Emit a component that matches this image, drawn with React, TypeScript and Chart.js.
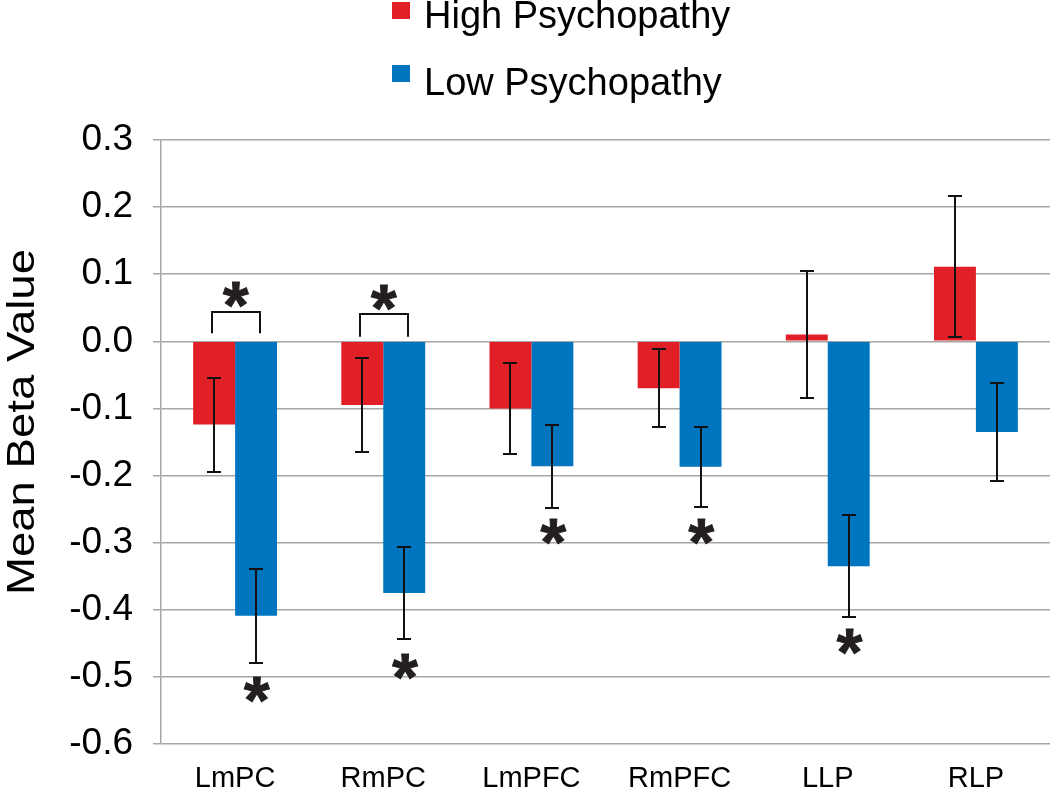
import React, { useEffect, useRef } from "react";
import { Chart, registerables } from "chart.js";

Chart.register(...registerables);

// ---------- data ----------
const categories = ["LmPC", "RmPC", "LmPFC", "RmPFC", "LLP", "RLP"];
const seriesNames = ["High Psychopathy", "Low Psychopathy"];
const highValues = [-0.124, -0.095, -0.1, -0.07, 0.01, 0.111];
const highErrors = [0.07, 0.07, 0.068, 0.058, 0.095, 0.105];
const lowValues = [-0.409, -0.375, -0.186, -0.187, -0.335, -0.135];
const lowErrors = [0.07, 0.069, 0.062, 0.06, 0.076, 0.073];
const yMin = -0.6;
const yMax = 0.3;
const yStep = 0.1;
const yTitle = "Mean Beta Value";

// significance annotations (value space)
const bracketCats = [0, 1];
const bracketBottom = [0.012, 0.007];
const bracketTop = [0.043, 0.04];
const bracketStarY = [0.07, 0.066];
const lowStarCats = [0, 1, 2, 3, 4];
const lowStarY = [-0.519, -0.484, -0.284, -0.284, -0.448];

// ---------- style ----------
const COLORS = ["#E01F27", "#0075BF"];
const GRID = "#a6a6a6";
const SANS = "'Liberation Sans', Arial, Helvetica, sans-serif";

function hasFont(name: string): boolean {
  const c = document.createElement("canvas").getContext("2d");
  if (!c) return false;
  c.font = "40px monospace";
  const a = c.measureText("LmPC RmPFC LLP").width;
  c.font = `40px '${name}', monospace`;
  const b = c.measureText("LmPC RmPFC LLP").width;
  return Math.abs(a - b) > 0.5;
}

function drawStar(ctx: CanvasRenderingContext2D, cx: number, cy: number, h: number) {
  ctx.save();
  ctx.font = `bold 100px ${SANS}`;
  const m0 = ctx.measureText("*");
  const hh = m0.actualBoundingBoxAscent + m0.actualBoundingBoxDescent;
  const size = (h / hh) * 100;
  ctx.font = `bold ${size}px ${SANS}`;
  const m = ctx.measureText("*");
  ctx.textAlign = "left";
  ctx.textBaseline = "alphabetic";
  ctx.fillStyle = "#231f20";
  ctx.strokeStyle = "#231f20";
  ctx.lineWidth = 1;
  const x0 = cx - (m.actualBoundingBoxRight - m.actualBoundingBoxLeft) / 2;
  const base = cy + (m.actualBoundingBoxAscent - m.actualBoundingBoxDescent) / 2;
  ctx.fillText("*", x0, base);
  ctx.strokeText("*", x0, base);
  ctx.restore();
}

const overlayPlugin = {
  id: "overlay",
  afterDatasetsDraw(chart: any) {
    const ctx: CanvasRenderingContext2D = chart.ctx;
    const y = chart.scales.y;
    const errs = [highErrors, lowErrors];
    const vals = [highValues, lowValues];
    ctx.save();
    ctx.strokeStyle = "#111";
    ctx.lineWidth = 2;
    for (let d = 0; d < 2; d++) {
      const meta = chart.getDatasetMeta(d);
      meta.data.forEach((el: any, i: number) => {
        const x = Math.round(el.x);
        const top = Math.round(y.getPixelForValue(vals[d][i] + errs[d][i]));
        const bot = Math.round(y.getPixelForValue(vals[d][i] - errs[d][i]));
        ctx.beginPath();
        ctx.moveTo(x, top);
        ctx.lineTo(x, bot);
        ctx.moveTo(x - 7, top);
        ctx.lineTo(x + 7, top);
        ctx.moveTo(x - 7, bot);
        ctx.lineTo(x + 7, bot);
        ctx.stroke();
      });
    }
    // brackets
    const m0 = chart.getDatasetMeta(0);
    const m1 = chart.getDatasetMeta(1);
    bracketCats.forEach((c, k) => {
      const xl = Math.round(m0.data[c].x - 2);
      const xr = Math.round(m1.data[c].x + 4);
      const yt = Math.round(y.getPixelForValue(bracketTop[k]));
      const yb = y.getPixelForValue(bracketBottom[k]);
      ctx.beginPath();
      ctx.moveTo(xl, yb);
      ctx.lineTo(xl, yt);
      ctx.lineTo(xr, yt);
      ctx.lineTo(xr, yb);
      ctx.stroke();
      drawStar(ctx, (xl + xr) / 2, y.getPixelForValue(bracketStarY[k]), 25);
    });
    lowStarCats.forEach((c, k) => {
      drawStar(ctx, m1.data[c].x + 1, y.getPixelForValue(lowStarY[k]), 25);
    });
    ctx.restore();
  },
  afterDraw(chart: any) {
    const ctx: CanvasRenderingContext2D = chart.ctx;
    ctx.save();
    // legend
    ctx.font = `38px ${SANS}`;
    ctx.textAlign = "left";
    ctx.textBaseline = "alphabetic";
    const rows = [
      { sq: 2, base: 28 },
      { sq: 65, base: 95 },
    ];
    rows.forEach((r, i) => {
      ctx.fillStyle = COLORS[i];
      ctx.fillRect(392, r.sq, 18, 17);
      ctx.fillStyle = "#000";
      ctx.fillText(seriesNames[i], 424, r.base);
    });
    // y title
    ctx.font = `38px ${SANS}`;
    const w = ctx.measureText(yTitle).width;
    const sx = 346 / w;
    ctx.translate(33.5, 422);
    ctx.rotate(-Math.PI / 2);
    ctx.scale(sx, 1);
    ctx.textAlign = "center";
    ctx.fillStyle = "#000";
    ctx.fillText(yTitle, 0, 0);
    ctx.restore();
  },
};

export default function App() {
  const ref = useRef<HTMLCanvasElement | null>(null);

  useEffect(() => {
    if (!ref.current) return;
    const narrow = hasFont("Liberation Sans Narrow");
    const xFont = narrow
      ? { family: "'Liberation Sans Narrow', 'Arial Narrow', sans-serif", size: 34 }
      : { family: SANS, size: 29 };

    const chart = new Chart(ref.current, {
      type: "bar",
      data: {
        labels: categories,
        datasets: [
          { label: seriesNames[0], data: highValues, backgroundColor: COLORS[0], borderWidth: 0 },
          { label: seriesNames[1], data: lowValues, backgroundColor: COLORS[1], borderWidth: 0 },
        ],
      },
      options: {
        animation: false,
        responsive: true,
        maintainAspectRatio: false,
        layout: { padding: { top: 140, right: 0, bottom: 0, left: 0 } },
        plugins: {
          legend: { display: false },
          tooltip: { enabled: false },
        },
        datasets: {
          bar: { categoryPercentage: 0.566, barPercentage: 1 },
        },
        scales: {
          x: {
            grid: { display: false, drawTicks: false },
            border: { display: false },
            ticks: {
              color: "#000",
              font: xFont,
              padding: 18,
              maxRotation: 0,
              autoSkip: false,
            },
            afterFit: (s: any) => {
              s.height = 47;
            },
          },
          y: {
            min: yMin,
            max: yMax,
            grid: {
              color: GRID,
              lineWidth: 1.5,
              tickLength: 8,
              drawTicks: true,
            },
            border: { display: true, color: GRID, width: 1.5 },
            ticks: {
              stepSize: yStep,
              color: "#000",
              font: { family: SANS, size: 37 },
              padding: 20,
              callback: (v: any) => (Math.abs(Number(v)) < 1e-9 ? "0.0" : Number(v).toFixed(1)),
            },
            afterFit: (s: any) => {
              s.width = 161;
            },
          },
        },
      },
      plugins: [overlayPlugin],
    });
    return () => chart.destroy();
  }, []);

  return (
    <div
      style={{
        position: "fixed",
        left: 0,
        top: 0,
        width: 1050,
        height: 791,
        background: "#fff",
      }}
    >
      <canvas ref={ref} />
    </div>
  );
}
